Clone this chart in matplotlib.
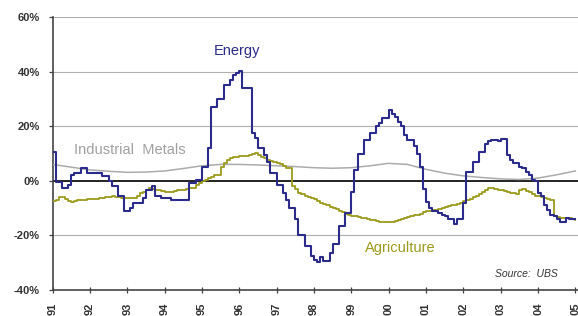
import numpy as np
import matplotlib
matplotlib.use("Agg")
import matplotlib.pyplot as plt

# ---------------- data (monthly, Jan 1991 .. Jan 2005) ----------------
start_year = 1991
energy = [
    10.5, -0.5, -0.5, -2.7, -2.7, -1.5, 2.0, 3.0, 3.0, 4.8, 4.8, 3.0,          # 1991
    3.0, 3.0, 3.0, 3.0, 1.6, 1.6, 0.0, -2.0, -2.0, -5.7, -5.7, -11.2,          # 1992
    -11.2, -10.0, -8.0, -8.0, -8.0, -6.3, -3.3, -3.3, -2.0, -5.7, -5.7, -6.2,  # 1993
    -6.2, -6.2, -7.0, -7.0, -7.0, -7.0, -7.0, -7.0, -0.8, -0.8, 0.4, 0.4,      # 1994
    5.0, 5.0, 12.0, 27.0, 27.0, 30.0, 30.0, 35.0, 35.0, 37.0, 38.8, 39.5,      # 1995
    40.3, 34.0, 34.0, 34.0, 17.5, 15.7, 12.0, 12.0, 9.5, 7.0, 3.0, 3.0,        # 1996
    -1.5, -1.5, -4.5, -7.0, -10.0, -10.0, -14.0, -20.0, -20.0, -24.0, -24.0, -27.7,  # 1997
    -29.0, -29.6, -28.0, -29.5, -29.5, -26.5, -23.0, -23.0, -16.7, -16.7, -11.8, -11.8,  # 1998
    -4.0, 4.0, 10.0, 10.0, 15.0, 15.0, 17.5, 17.5, 20.0, 21.0, 23.0, 23.0,     # 1999
    26.0, 24.5, 23.5, 21.7, 20.0, 16.8, 15.0, 15.0, 12.6, 10.0, 5.2, -3.0,     # 2000
    -7.6, -10.0, -11.0, -11.0, -11.8, -12.5, -13.0, -14.0, -14.0, -16.0, -14.0, -14.0,  # 2001
    -8.0, 3.4, 3.4, 7.0, 7.0, 10.7, 10.7, 13.5, 14.4, 14.8, 15.0, 14.5,        # 2002
    15.4, 15.4, 9.5, 7.7, 6.6, 6.6, 5.0, 4.8, 3.4, 2.2, 0.4, -0.2,             # 2003
    -4.5, -5.7, -8.8, -10.6, -12.5, -13.0, -14.0, -15.0, -15.0, -13.6, -14.0, -14.0,  # 2004
    -14.0,                                                                     # 2005
]
agriculture = [
    -7.5, -7.0, -6.0, -5.8, -6.5, -7.5, -7.6, -7.3, -7.2, -7.0, -7.0, -6.8,    # 1991
    -6.8, -6.6, -6.5, -6.3, -6.2, -6.0, -5.8, -5.7, -5.8, -6.0, -6.2, -6.3,    # 1992
    -6.3, -6.3, -6.2, -5.5, -4.5, -4.0, -3.5, -2.7, -3.0, -3.3, -3.5, -3.8,    # 1993
    -4.0, -4.0, -4.0, -3.8, -3.5, -3.3, -3.2, -3.0, -2.8, -2.5, -1.5, -0.8,    # 1994
    -0.2, 0.3, 1.0, 1.5, 2.0, 2.2, 5.2, 6.6, 7.7, 8.2, 8.9, 8.9,               # 1995
    9.0, 9.0, 9.2, 9.5, 10.0, 10.2, 9.5, 8.9, 8.4, 7.7, 7.2, 6.8,              # 1996
    6.6, 6.0, 5.5, 4.8, 4.8, -2.0, -3.0, -4.5, -5.0, -5.5, -6.0, -6.3,         # 1997
    -6.8, -7.5, -8.0, -8.5, -9.0, -9.5, -10.0, -10.3, -11.0, -11.5, -12.0, -12.5,  # 1998
    -12.8, -13.0, -13.3, -13.5, -13.8, -14.0, -14.2, -14.5, -14.7, -15.0, -15.0, -15.0,  # 1999
    -15.0, -15.0, -14.6, -14.3, -14.0, -13.5, -13.2, -12.8, -12.5, -12.5, -12.0, -11.6,  # 2000
    -11.2, -11.0, -10.8, -10.6, -10.3, -10.0, -9.6, -9.2, -9.0, -8.8, -8.4, -8.0,  # 2001
    -7.5, -7.0, -6.5, -6.0, -5.5, -4.8, -4.2, -3.5, -2.8, -2.7, -3.0, -3.4,    # 2002
    -3.5, -3.8, -4.0, -4.3, -4.6, -4.8, -3.2, -3.0, -3.6, -4.2, -5.0, -5.4,    # 2003
    -5.6, -5.8, -6.2, -6.5, -7.0, -13.0, -13.4, -13.6, -13.8, -13.6, -13.6, -14.0,  # 2004
    -14.2,                                                                     # 2005
]
# Industrial metals: smooth series, half-yearly readings
metals_years = [1991.0, 1991.5, 1992.0, 1992.5, 1993.0, 1993.5, 1994.0, 1994.5,
                1995.0, 1995.5, 1996.0, 1996.5, 1997.0, 1997.5, 1998.0, 1998.5,
                1999.0, 1999.5, 2000.0, 2000.5, 2001.0, 2001.5, 2002.0, 2002.5,
                2003.0, 2003.5, 2004.0, 2004.5, 2005.0]
metals = [6.0, 5.0, 4.0, 3.5, 3.1, 3.2, 3.6, 4.5,
          5.5, 6.0, 6.0, 5.8, 5.5, 5.2, 4.8, 4.6,
          4.8, 5.5, 6.4, 6.0, 4.2, 2.8, 1.8, 1.2,
          0.7, 0.5, 1.0, 2.2, 3.6]

tick_years = list(range(1991, 2006))
tick_labels = ["91", "92", "93", "94", "95", "96", "97", "98", "99",
               "00", "01", "02", "03", "04", "05"]
y_ticks = [-40, -20, 0, 20, 40, 60]

# ---------------- plot ----------------
plt.rcParams['font.family'] = ['Liberation Sans', 'DejaVu Sans']

fig = plt.figure(figsize=(5.78, 3.16), dpi=100)
ax = fig.add_axes([52.5 / 578, 1 - 290 / 316, 1 - 52.5 / 578, (290 - 17) / 316])

months = start_year + np.arange(len(energy)) / 12.0

ax.set_xlim(1991, 2005.07)
ax.set_ylim(-40, 60)

for v in y_ticks[1:]:
    if v != 0:
        ax.axhline(v, color='#b0b0b0', lw=0.8, zorder=1)
ax.axhline(0, color='#222222', lw=1.4, zorder=2)

ax.plot(metals_years, metals, color='#ababab', lw=1.1, zorder=3)
ax.plot(start_year + np.arange(len(agriculture)) / 12.0, agriculture,
        drawstyle='steps-post', color='#9c9a1c', lw=1.3, zorder=4)
ax.plot(months, energy, drawstyle='steps-post', color='#2b2b8c', lw=1.5, zorder=5)

ax.set_yticks(y_ticks)
ax.set_yticklabels([f"{v}%" for v in y_ticks], fontsize=8, fontweight='bold',
                   color='#333333')
ax.set_xticks(tick_years)
ax.set_xticklabels(tick_labels, rotation=90, fontsize=8, fontweight='bold',
                   color='#333333')
ax.tick_params(axis='y', direction='out', length=3, width=0.9, color='#444444', pad=6)
ax.tick_params(axis='x', direction='inout', length=4, width=0.9, color='#444444', pad=7)

for s in ['top', 'right']:
    ax.spines[s].set_visible(False)
ax.spines['left'].set_color('#444444')
ax.spines['left'].set_linewidth(1.2)
ax.spines['bottom'].set_color('#444444')
ax.spines['bottom'].set_linewidth(1.2)

ax.text(1995.94, 47.6, "Energy", color='#2b2b8c', fontsize=10.5,
        ha='center', va='center')
ax.text(1993.06, 11.4, "Industrial  Metals", color='#a0a0a0', fontsize=10.5,
        ha='center', va='center')
ax.text(2000.3, -24.5, "Agriculture", color='#9c9a1c', fontsize=10.5,
        ha='center', va='center')
ax.text(2003.7, -34.0, "Source:  UBS", color='#333333', fontsize=7.5,
        style='italic', ha='center', va='center')

fig.savefig("out.png", dpi=100)
